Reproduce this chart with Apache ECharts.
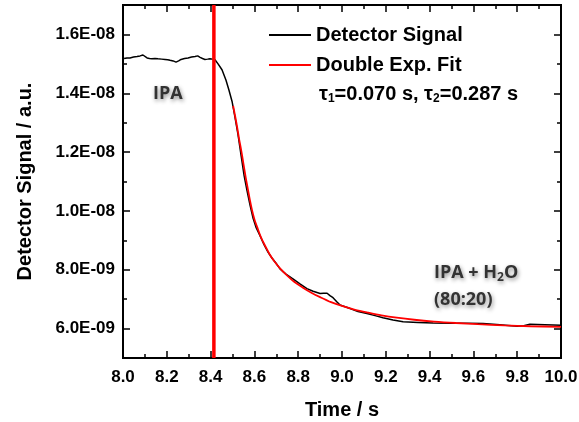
<!DOCTYPE html>
<html>
<head>
<meta charset="utf-8">
<script src="https://cdn.jsdelivr.net/npm/echarts@6/dist/echarts.min.js"></script>
<style>
html,body{margin:0;padding:0;background:#fff;}
#chart{width:579px;height:422px;}
</style>
</head>
<body>
<div id="chart"></div>
<script>
// values of the signal are in units of 1E-09 a.u.
const signalTime = [8.005,8.018,8.032,8.048,8.064,8.078,8.091,8.100,8.110,8.121,8.132,8.146,8.160,8.176,8.192,8.204,8.215,8.229,8.242,8.254,8.265,8.281,8.297,8.313,8.329,8.341,8.352,8.363,8.374,8.386,8.397,8.409,8.420,8.434,8.452,8.470,8.484,8.498,8.511,8.525,8.539,8.553,8.566,8.580,8.594,8.607,8.626,8.644,8.662,8.680,8.699,8.717,8.744,8.776,8.808,8.840,8.868,8.900,8.916,8.932,8.945,8.959,8.975,8.991,9.037,9.073,9.114,9.151,9.187,9.233,9.279,9.347,9.416,9.493,9.571,9.644,9.721,9.799,9.830,9.858,9.927,10.0];
const signalValue = [15.18,15.20,15.20,15.23,15.25,15.27,15.30,15.24,15.20,15.18,15.17,15.18,15.17,15.16,15.15,15.14,15.12,15.10,15.06,15.10,15.15,15.18,15.20,15.23,15.25,15.27,15.22,15.18,15.15,15.16,15.17,15.16,15.14,15.00,14.80,14.45,14.10,13.72,13.20,12.60,11.90,11.20,10.70,10.20,9.75,9.45,9.15,8.85,8.60,8.40,8.22,8.03,7.85,7.69,7.52,7.36,7.27,7.19,7.20,7.20,7.12,7.05,6.92,6.80,6.68,6.58,6.51,6.44,6.37,6.29,6.23,6.21,6.19,6.18,6.18,6.17,6.13,6.08,6.10,6.15,6.13,6.11];
const fitTime = [8.503,8.51,8.52,8.53,8.54,8.55,8.56,8.57,8.58,8.59,8.60,8.615,8.63,8.65,8.67,8.69,8.72,8.75,8.78,8.82,8.86,8.90,8.95,9.00,9.06,9.12,9.18,9.25,9.33,9.42,9.52,9.62,9.74,9.86,10.0];
const fitValue = [13.57,13.30,12.90,12.45,12.05,11.60,11.15,10.75,10.35,10.00,9.72,9.40,9.10,8.80,8.52,8.30,8.02,7.80,7.60,7.40,7.22,7.07,6.90,6.77,6.64,6.54,6.45,6.37,6.30,6.24,6.19,6.15,6.11,6.08,6.06];
const switchTime = 8.415;
const seriesNames = ['Detector Signal','Double Exp. Fit'];
const tauText = 'τ{sub|1}=0.070 s, τ{sub|2}=0.287 s';
const label1 = 'IPA';
const label2 = 'IPA + H{sub|2}O\n(80:20)';
// axis ranges (y in units of 1E-09) and labelled tick range
const yMin = 5, yMax = 17, yLabelMin = 6, yLabelMax = 16, yLabelStep = 2;
const xMin = 8, xMax = 10, xStep = 0.2;

const FONT = '"Liberation Sans", Arial, sans-serif';
const black = '#000';
function fmtY(v){
  const e = Math.floor(Math.log10(v*1e-9) + 1e-9);
  const m = (v*1e-9)/Math.pow(10,e);
  return m.toFixed(1) + 'E-' + String(-e).padStart(2,'0');
}
const W = 579, H = 422;
const G = {left:123, right:18, top:5, bottom:64};
const pxPerUnit = (H - G.top - G.bottom) / (yMax - yMin);
const G2 = {left:G.left, right:G.right,
  top:G.top + (yMax - yLabelMax)*pxPerUnit, bottom:G.bottom + (yLabelMin - yMin)*pxPerUnit};

const tickLS = {color:black, width:1.5};
const labelStyle = {color:black, fontFamily:FONT, fontWeight:'bold', fontSize:17};
const nameStyle = {color:black, fontFamily:FONT, fontWeight:'bold', fontSize:20};

function xAx(pos, showLabel, name){
  const o = {
    type:'value', gridIndex:0, position:pos, min:xMin, max:xMax, interval:xStep,
    axisLine:{show:true, onZero:false, lineStyle:{color:black, width:2}},
    axisTick:{show:true, inside:true, length:7, lineStyle:{color:black, width:1.5}},
    minorTick:{show:true, splitNumber:2, length:4, lineStyle:{color:black, width:1.5}},
    axisLabel:{show:showLabel, margin:11, formatter:v=>v.toFixed(1), ...labelStyle},
    splitLine:{show:false}
  };
  if (name) { o.name = name; o.nameLocation = 'middle'; o.nameGap = 42; o.nameTextStyle = nameStyle; }
  return o;
}
function yFrameAx(pos){
  return {
    type:'value', gridIndex:0, position:pos, min:yMin, max:yMax, interval:1,
    axisLine:{show:true, onZero:false, lineStyle:{color:black, width:2}},
    axisTick:{show:false}, axisLabel:{show:false}, splitLine:{show:false}
  };
}
function yTickAx(pos, showLabel, name){
  const o = {
    type:'value', gridIndex:1, position:pos, min:yLabelMin, max:yLabelMax, interval:yLabelStep,
    axisLine:{show:false, onZero:false},
    axisTick:{show:true, inside:true, length:7, lineStyle:{color:black, width:1.5}},
    minorTick:{show:true, splitNumber:2, length:4, lineStyle:{color:black, width:1.5}},
    axisLabel:{show:showLabel, margin:8, formatter:fmtY, ...labelStyle},
    splitLine:{show:false}
  };
  if (name) { o.name = name; o.nameLocation = 'middle'; o.nameGap = 88; o.nameTextStyle = nameStyle; }
  return o;
}
const shadowText = {fontFamily:'"Open Sans", sans-serif', fontWeight:'bold', fontSize:18, fill:'#333',
  textShadowColor:'rgba(0,0,0,0.45)', textShadowBlur:4, textShadowOffsetX:1, textShadowOffsetY:2};

const chart = echarts.init(document.getElementById('chart'), null, {renderer:'canvas'});
chart.setOption({
  animation:false,
  grid:[
    {...G, containLabel:false, outerBoundsMode:'none', show:true, borderColor:black, borderWidth:2, backgroundColor:'transparent'},
    {...G2, containLabel:false, outerBoundsMode:'none'}
  ],
  xAxis:[xAx('bottom', true, 'Time / s'), xAx('top', false),
         {type:'value', gridIndex:1, min:xMin, max:xMax, show:false}],
  yAxis:[yFrameAx('left'), yFrameAx('right'),
         yTickAx('left', true, 'Detector Signal / a.u.'), yTickAx('right', false)],
  legend:{
    data:seriesNames, orient:'vertical', left:264, top:20, itemWidth:42, itemHeight:2, itemGap:10,
    icon:'rect', selectedMode:false,
    textStyle:{color:black, fontFamily:FONT, fontWeight:'bold', fontSize:20}
  },
  series:[
    {name:seriesNames[0], type:'line', xAxisIndex:0, yAxisIndex:0, symbol:'none', z:3,
     lineStyle:{color:black, width:1.5}, itemStyle:{color:black},
     data:signalTime.map((t,i)=>[t, signalValue[i]])},
    {name:seriesNames[1], type:'line', xAxisIndex:0, yAxisIndex:0, symbol:'none', z:4, smooth:0.3,
     lineStyle:{color:'#ff0000', width:1.8}, itemStyle:{color:'#ff0000'},
     data:fitTime.map((t,i)=>[t, fitValue[i]])},
    {name:'switch', type:'line', xAxisIndex:0, yAxisIndex:0, symbol:'none', z:5,
     lineStyle:{color:'#ff0000', width:3.5},
     data:[[switchTime,yMin],[switchTime,yMax]]}
  ],
  graphic:[
    {type:'text', left:319, top:84, style:{text:tauText, fontFamily:FONT, fontWeight:'bold', fontSize:20, fill:black,
      rich:{sub:{fontFamily:FONT, fontWeight:'bold', fontSize:12, fill:black, padding:[10,0,0,0]}}}},
    {type:'text', left:153, top:85, style:{text:label1, ...shadowText}},
    {type:'text', left:434, top:259, style:{text:label2, ...shadowText, align:'center', x:45, lineHeight:27,
      rich:{sub:{fontFamily:'"Open Sans", sans-serif', fontWeight:'bold', fontSize:12, fill:'#333', padding:[10,0,0,0],
        textShadowColor:'rgba(0,0,0,0.45)', textShadowBlur:4, textShadowOffsetX:1, textShadowOffsetY:2}}}}
  ]
});
</script>
</body>
</html>
